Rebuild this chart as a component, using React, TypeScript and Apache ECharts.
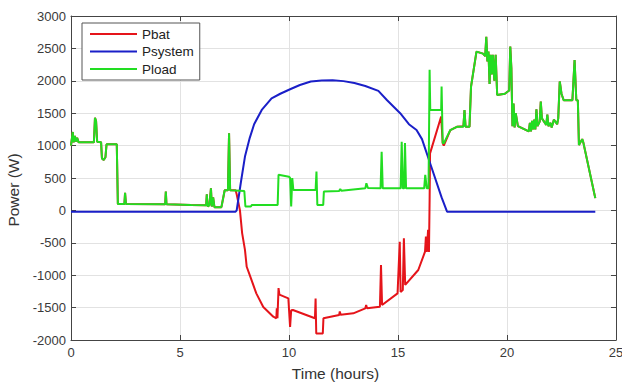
import React, { useEffect, useRef } from "react";
import * as echarts from "echarts";

// Time (hours) / power (W) pairs
const loadPoints: [number, number][] = [
  [0, 1000], [0.08, 1210], [0.12, 1050], [0.18, 1150], [0.22, 1060], [0.28, 1120], [0.35, 1050],
  [1.05, 1050], [1.1, 1430], [1.15, 1380], [1.2, 1060], [1.38, 1050], [1.42, 800], [1.5, 780],
  [1.58, 820], [1.63, 1020], [2.1, 1020], [2.15, 100], [2.45, 100], [2.48, 270], [2.52, 100],
  [4.32, 95], [4.35, 290], [4.38, 95], [5.5, 85], [6.2, 80], [6.23, 250], [6.27, 60], [6.35, 80],
  [6.42, 340], [6.46, 60], [6.52, 200], [6.58, 50], [6.9, 50], [7.05, 310], [7.2, 310],
  [7.25, 1190], [7.3, 310], [7.95, 300], [8.0, 60], [8.25, 60], [8.3, 85], [9.48, 85],
  [9.52, 550], [10.0, 520], [10.05, 500], [10.1, 60], [10.15, 500], [10.2, 315], [11.22, 315],
  [11.26, 600], [11.3, 85], [11.57, 85], [11.6, 290], [12.3, 300], [12.35, 330], [12.4, 305],
  [13.5, 340], [13.55, 420], [13.62, 345], [14.2, 340], [14.25, 905], [14.3, 340], [15.12, 340],
  [15.17, 1060], [15.22, 340], [15.28, 340], [15.32, 1040], [15.37, 340], [16.2, 340],
  [16.25, 550], [16.32, 340], [16.4, 340], [16.45, 2170], [16.48, 1550], [16.98, 1550],
  [17.0, 1910], [17.05, 1040], [17.1, 1035], [17.4, 1240], [17.7, 1290], [18.0, 1290],
  [18.05, 1550], [18.1, 1290], [18.28, 1290], [18.35, 1910], [18.6, 2450], [18.9, 2420],
  [19.0, 2380], [19.05, 2680], [19.1, 2300], [19.15, 2450], [19.2, 1950], [19.25, 2400],
  [19.3, 2100], [19.35, 2400], [19.42, 2000], [19.48, 2400], [19.55, 1780], [19.9, 1800],
  [20.1, 1850], [20.15, 2530], [20.2, 2200], [20.25, 1300], [20.3, 1650], [20.35, 1280],
  [20.4, 1500], [20.5, 1300], [21.0, 1220], [21.05, 1350], [21.1, 1220], [21.15, 1380],
  [21.2, 1250], [21.25, 1400], [21.3, 1250], [21.35, 1560], [21.4, 1300], [21.5, 1370],
  [21.55, 1680], [21.6, 1420], [21.8, 1320], [21.85, 1480], [21.9, 1300], [22.0, 1350],
  [22.05, 1280], [22.15, 1400], [22.3, 1330], [22.35, 1420], [22.42, 1990], [22.5, 1800],
  [22.6, 1700], [23.0, 1700], [23.1, 2320], [23.18, 1700], [23.25, 1700], [23.3, 1010],
  [23.45, 1100], [23.5, 1050], [24.05, 190],
];

// Battery power while the system is charging (visible red part)
const batteryChargePoints: [number, number][] = [
  [7.55, 310], [7.6, 250], [7.75, 0], [7.85, -350], [7.98, -610], [8.06, -870], [8.2, -1000],
  [8.5, -1280], [8.82, -1490], [9.28, -1640], [9.42, -1665], [9.44, -1510], [9.47, -1665],
  [9.52, -1200], [9.56, -1300], [9.97, -1357], [10.05, -1800], [10.1, -1540], [10.18, -1537],
  [11.19, -1665], [11.22, -1360], [11.25, -1900], [11.55, -1900], [11.58, -1665],
  [12.3, -1614], [12.33, -1560], [12.37, -1610], [12.95, -1588], [13.5, -1511], [13.54, -1460],
  [13.58, -1511], [14.17, -1486], [14.22, -843], [14.27, -1460], [14.98, -1280], [15.08, -483],
  [15.12, -1260], [15.22, -1230], [15.27, -431], [15.33, -1150], [15.93, -920], [16.24, -637],
  [16.28, -405], [16.32, -640], [16.38, -300], [16.42, -640], [16.45, 160], [16.47, 880],
  [16.98, 1450], [17.05, 1040], [17.1, 1000], [17.4, 1240], [17.7, 1290], [18.0, 1300],
  [18.05, 1550], [18.1, 1290], [18.28, 1290],
];

const systemPoints: [number, number][] = [
  [0, -20], [7.55, -20], [7.6, 0], [7.8, 450], [7.98, 830], [8.2, 1120], [8.4, 1330],
  [8.75, 1550], [9.2, 1730], [9.6, 1800], [10.05, 1870], [10.5, 1935], [11.0, 1990],
  [11.5, 2005], [12.0, 2010], [12.5, 1995], [13.0, 1965], [13.5, 1920], [14.1, 1845],
  [14.5, 1700], [15.1, 1500], [15.5, 1330], [15.85, 1240], [16.1, 1100], [16.5, 700],
  [17.0, 200], [17.25, -20], [24.05, -20],
];

const seriesNames = ["Pbat", "Psystem", "Pload"];
const xTicks = { min: 0, max: 25, interval: 5 };
const yTicks = { min: -2000, max: 3000, interval: 500 };

const FONT = "'Liberation Sans', Arial, Helvetica, sans-serif";

const axisLine = () => ({ show: true, onZero: false, lineStyle: { color: "#444", width: 1 } });
const tick = () => ({ show: true, inside: true, length: 5, lineStyle: { color: "#444", width: 1 } });
const label = (margin: number) => ({
  show: true,
  inside: false,
  margin,
  color: "#3a3a3a",
  fontSize: 13,
  fontFamily: FONT,
  formatter: (v: number) => String(v),
});
const grid = () => ({ show: true, lineStyle: { color: "#e2e2e2", width: 1 } });

export default function App() {
  const ref = useRef<HTMLDivElement>(null);

  useEffect(() => {
    if (!ref.current) return;
    const chart = echarts.init(ref.current, undefined, { renderer: "svg" });

    // battery equals load whenever the system supplies nothing (red hidden under green)
    const batPoints: [number, number][] = [
      ...loadPoints.filter((p) => p[0] < 7.55),
      ...batteryChargePoints,
      ...loadPoints.filter((p) => p[0] > 18.3),
    ];

    chart.setOption({
      animation: false,
      textStyle: { fontFamily: FONT },
      grid: {
        left: 71,
        right: 6,
        top: 16,
        bottom: 43,
        containLabel: false,
        outerBoundsMode: "none",
      },
      legend: {
        data: seriesNames,
        orient: "vertical",
        left: 82,
        top: 23,
        icon: "rect",
        itemWidth: 47,
        itemHeight: 2,
        itemGap: 3.5,
        padding: [4, 6, 4, 8],
        backgroundColor: "#fff",
        borderColor: "#555",
        borderWidth: 1,
        textStyle: { color: "#222", fontSize: 13.5, fontFamily: FONT },
      },
      xAxis: [
        {
          type: "value",
          ...xTicks,
          position: "bottom",
          name: "Time (hours)",
          nameLocation: "middle",
          nameGap: 25,
          nameTextStyle: { color: "#333", fontSize: 15.5, fontFamily: FONT, padding: [0, 16, 0, 0] },
          axisLine: axisLine(),
          axisTick: tick(),
          axisLabel: label(6),
          splitLine: grid(),
        },
        {
          type: "value",
          ...xTicks,
          position: "top",
          axisLine: axisLine(),
          axisTick: tick(),
          axisLabel: { show: false },
          splitLine: { show: false },
        },
      ],
      yAxis: [
        {
          type: "value",
          ...yTicks,
          position: "left",
          name: "Power (W)",
          nameLocation: "middle",
          nameGap: 47,
          nameTextStyle: { color: "#333", fontSize: 15.5, fontFamily: FONT, padding: [0, 24, 0, 0] },
          axisLine: axisLine(),
          axisTick: tick(),
          axisLabel: label(5),
          splitLine: grid(),
        },
        {
          type: "value",
          ...yTicks,
          position: "right",
          axisLine: axisLine(),
          axisTick: tick(),
          axisLabel: { show: false },
          splitLine: { show: false },
        },
      ],
      series: [
        {
          name: "Pbat",
          type: "line",
          data: batPoints,
          showSymbol: false,
          symbol: "none",
          lineStyle: { color: "#e5141a", width: 2 },
          itemStyle: { color: "#e5141a" },
        },
        {
          name: "Psystem",
          type: "line",
          data: systemPoints,
          showSymbol: false,
          symbol: "none",
          lineStyle: { color: "#1a1fc8", width: 2 },
          itemStyle: { color: "#1a1fc8" },
        },
        {
          name: "Pload",
          type: "line",
          data: loadPoints,
          showSymbol: false,
          symbol: "none",
          lineStyle: { color: "#22dd22", width: 2 },
          itemStyle: { color: "#22dd22" },
        },
      ],
    });

    return () => chart.dispose();
  }, []);

  return (
    <div
      ref={ref}
      style={{ position: "fixed", left: 0, top: 0, width: 622, height: 383, background: "#fff" }}
    />
  );
}
